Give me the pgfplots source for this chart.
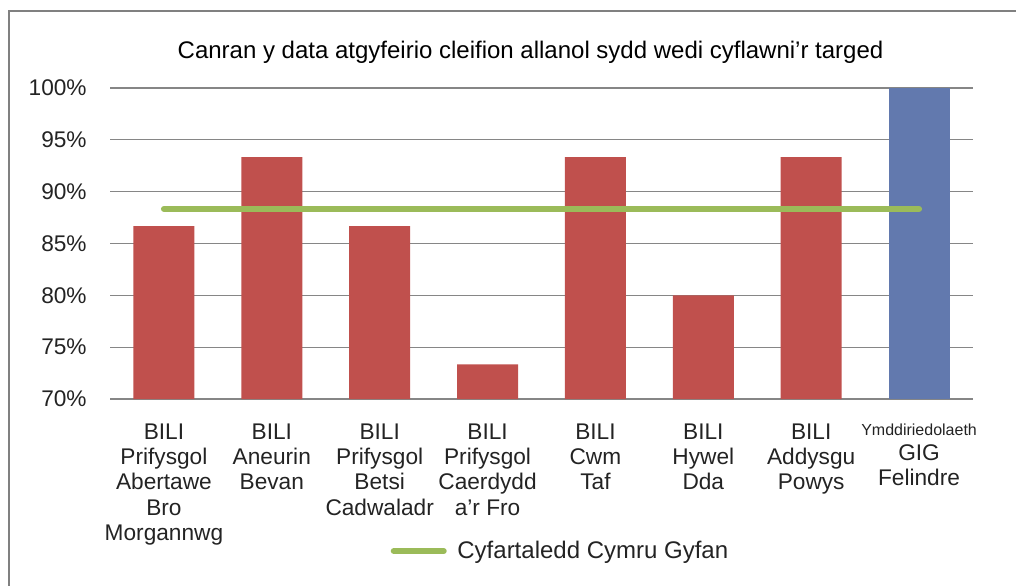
\documentclass[border=0pt]{standalone}
\usepackage{fontspec}
\setmainfont{Liberation Sans}
\usepackage{pgfplots}
\pgfplotsset{compat=1.18}
\definecolor{barred}{RGB}{192,80,77}
\definecolor{barblue}{RGB}{98,121,174}
\definecolor{avggreen}{RGB}{155,187,89}
\definecolor{gridgray}{RGB}{134,134,134}
\definecolor{txt}{RGB}{35,35,35}
\begin{document}
\begin{tikzpicture}
\path[use as bounding box] (0,0) rectangle (762pt,438.75pt);
\draw[gray, line width=1.2pt] (6.75pt,-5pt) -- (6.75pt,430.5pt) -- (775pt,430.5pt);
\node[font=\fontsize{18}{21}\selectfont, text=black] at (397.9pt,399.5pt) {Canran y data atgyfeirio cleifion allanol sydd wedi cyflawni’r targed};
\begin{axis}[
  at={(82.5pt,139.5pt)}, anchor=south west,
  scale only axis, width=647.25pt, height=233.25pt,
  xmin=-0.5, xmax=7.5, ymin=70, ymax=100,
  ytick={70,75,...,100},
  yticklabels={70\%,75\%,80\%,85\%,90\%,95\%,100\%},
  xtick={0,...,7},
  xticklabels={{BILI\\Prifysgol\\Abertawe\\Bro\\Morgannwg},
               {BILI\\Aneurin\\Bevan},
               {BILI\\Prifysgol\\Betsi\\Cadwaladr},
               {BILI\\Prifysgol\\Caerdydd\\a’r Fro},
               {BILI\\Cwm\\Taf},
               {BILI\\Hywel\\Dda},
               {BILI\\Addysgu\\Powys},
               {{\fontsize{12}{14}\selectfont Ymddiriedolaeth}\\GIG\\Felindre}},
  axis line style={draw=none},
  ymajorgrids, grid style={gridgray, line width=0.9pt},
  major tick length=0pt,
  tick label style={font=\fontsize{17}{19}\selectfont, text=txt},
  xticklabel style={align=center, anchor=north, yshift=-15pt},
  yticklabel style={anchor=east, xshift=-14pt},
  clip=false,
  legend style={at={(0.527,-0.489)}, anchor=center, draw=none, fill=none,
    font=\fontsize{18}{20}\selectfont, text=txt, legend cell align=left,
    /tikz/every odd column/.append style={column sep=0pt},
    nodes={inner xsep=8pt}},
  legend image code/.code={\draw[avggreen, line width=4.5pt] (-6pt,0pt) -- (31.5pt,0pt);},
]
\addplot[ybar, bar width=45.75pt, bar shift=0pt, fill=barred, draw=none, forget plot]
  coordinates {(0,86.67) (1,93.33) (2,86.67) (3,73.33) (4,93.33) (5,80) (6,93.33)};
\addplot[ybar, bar width=45.75pt, bar shift=0pt, fill=barblue, draw=none, forget plot]
  coordinates {(7,100)};
\addplot[avggreen, line width=4.5pt, line cap=round, mark=none]
  coordinates {(0,88.33) (7,88.33)};
\addlegendentry{Cyfartaledd Cymru Gyfan}
\end{axis}
\end{tikzpicture}
\end{document}
